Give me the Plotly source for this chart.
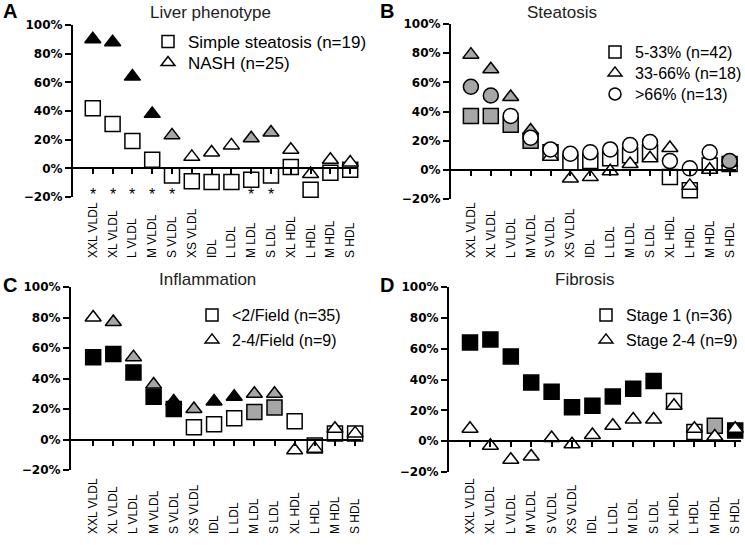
import plotly.graph_objects as go

cats = ["XXL VLDL", "XL VLDL", "L VLDL", "M VLDL", "S VLDL", "XS VLDL", "IDL",
        "L LDL", "M LDL", "S LDL", "XL HDL", "L HDL", "M HDL", "S HDL"]

# fill codes: k = black, g = gray, w = white
# A - liver phenotype
a_simple = [42, 31, 19, 6, -5, -9, -9.5, -9.5, -8, -5, 1, -15, -3, -1]
a_simple_fill = list("wwwwwwwwwwwwww")
a_nash = [90, 88, 64, 38, 23, 8, 11, 16, 21, 25, 13, -4, 6, 4]
a_nash_fill = list("kkkkgwwwggwwww")
a_marks = ["*", "*", "*", "*", "*", "", "", "", "*", "*", "", "", "", ""]

# B - steatosis
b_low = [37, 37, 31, 20, 12, 5, 6, 8, 10, 12, -5, -14, 3, 4]
b_low_fill = list("ggggwwwwwwwwww")
b_mid = [79, 69, 50, 27, 9, -6, -5, -1, 4, 8, 15, -11, 0, 5]
b_mid_fill = list("ggggwwwwwwwwww")
b_high = [57, 51, 37, 22, 14, 11, 12, 14, 17, 19, 6, 1, 12, 6]
b_high_fill = list("ggwwwwwwwwwwwg")

# C - inflammation
c_low = [54, 56, 44, 28, 20, 8, 10, 14, 18, 21, 12, -4, 4, 4]
c_low_fill = list("kkkkkwwwggwwww")
c_high = [80, 77, 54, 36, 25, 20, 25, 28, 30, 30, -7, -6, 7, 4]
c_high_fill = list("wgggkgkkggwwww")
c_marks = ["*", "*", "*", "*", "*", "", "*", "*", "*", "*", "", "", "", ""]

# D - fibrosis
d_st1 = [64, 66, 55, 38, 32, 22, 23, 29, 34, 39, 26, 6, 10, 7]
d_st1_fill = list("kkkkkkkkkkwwgk")
d_st24 = [8, -3, -12, -10, 2, -2, 4, 10, 14, 14, 23, 8, 3, 8]
d_st24_fill = list("wwwwwwwwwwwwww")
d_marks = ["#", "#", "#", "#", "#", "#", "#", "#", "#", "#", "", "*", "#", ""]

COL = {"k": "#000000", "g": "#a6a6a6", "w": "#ffffff"}
W, H = 745, 545

# pixel geometry of each panel
panels = {
    "A": dict(x0=73, step=19.8, r0=-1.0, r1=13.4, ytop=25, ybot=197, lab=258, marky=-18,
              title="Liver phenotype", tx=210, ty=12, lx=148, lf=17, ly=[42, 63]),
    "B": dict(x0=451, step=19.9, r0=-1.0, r1=13.3, ytop=24, ybot=199, lab=258, marky=-18,
              title="Steatosis", tx=562, ty=12, lx=595, lf=16, ly=[52, 73, 94]),
    "C": dict(x0=71, step=20.15, r0=-1.1, r1=13.3, ytop=287, ybot=470, lab=534, marky=-22.5,
              title="Inflammation", tx=207, ty=279, lx=192, lf=16, ly=[315, 340]),
    "D": dict(x0=449, step=20.4, r0=-1.03, r1=13.3, ytop=287, ybot=472, lab=534, marky=-21,
              title="Fibrosis", tx=585, ty=279, lx=586, lf=16, ly=[315, 340]),
}

series = {
    "A": [("Simple steatosis (n=19)", a_simple, a_simple_fill, "square"),
          ("NASH (n=25)", a_nash, a_nash_fill, "triangle-up")],
    "B": [("5-33% (n=42)", b_low, b_low_fill, "square"),
          ("33-66% (n=18)", b_mid, b_mid_fill, "triangle-up"),
          (">66% (n=13)", b_high, b_high_fill, "circle")],
    "C": [("<2/Field (n=35)", c_low, c_low_fill, "square"),
          ("2-4/Field (n=9)", c_high, c_high_fill, "triangle-up")],
    "D": [("Stage 1 (n=36)", d_st1, d_st1_fill, "square"),
          ("Stage 2-4 (n=9)", d_st24, d_st24_fill, "triangle-up")],
}
marks = {"A": a_marks, "C": c_marks, "D": d_marks}
sizes = {"square": 15, "triangle-up": 14, "circle": 15}

fig = go.Figure()
layout = {}
annotations = []
tickfont = dict(family="DejaVu Sans", size=12, color="black", weight="bold")
leg_count = 0

for i, (key, p) in enumerate(panels.items()):
    n = i + 1
    xa = "x" if n == 1 else f"x{n}"
    ya = "y" if n == 1 else f"y{n}"
    lab_x = f"x{n + 4}"
    x1 = p["x0"] + (p["r1"] - p["r0"]) * p["step"]
    xdom = [p["x0"] / W, x1 / W]
    ydom = [(H - p["ybot"]) / H, (H - p["ytop"]) / H]
    zero_pos = ydom[0] + (ydom[1] - ydom[0]) * 20 / 120

    for j, (name, vals, fill, sym) in enumerate(series[key]):
        fig.add_trace(go.Scatter(
            x=cats, y=vals, mode="markers", xaxis=xa, yaxis=ya, showlegend=False,
            cliponaxis=False,
            marker=dict(symbol=sym, size=sizes[sym], color=[COL[f] for f in fill],
                        line=dict(color="black", width=1.5))))
        # legend entry, one small legend per row
        leg_count += 1
        leg = "legend" if leg_count == 1 else f"legend{leg_count}"
        fig.add_trace(go.Scatter(
            x=[None], y=[None], mode="markers", xaxis=xa, yaxis=ya, name=name,
            legend=leg,
            marker=dict(symbol=sym, size=12, color="white",
                        line=dict(color="black", width=1.5))))
        layout[leg] = dict(
            x=p["lx"] / W, y=(H - p["ly"][j]) / H, xanchor="left", yanchor="middle",
            bgcolor="rgba(0,0,0,0)", itemwidth=30, borderwidth=0,
            font=dict(family="Liberation Sans", size=p["lf"], color="black"))

    # dummy trace so the tick label axis gets drawn
    fig.add_trace(go.Scatter(x=[None], y=[None], xaxis=lab_x, yaxis=ya,
                             showlegend=False, hoverinfo="skip"))

    layout[f"xaxis{'' if n == 1 else n}"] = dict(
        domain=xdom, anchor="free", position=zero_pos, type="category",
        categoryorder="array", categoryarray=cats, range=[p["r0"], p["r1"]],
        showline=True, linecolor="black", linewidth=2, ticks="outside", ticklen=5,
        tickwidth=1.5, tickcolor="black", showticklabels=False, showgrid=False,
        zeroline=False, fixedrange=True)
    layout[f"xaxis{n + 4}"] = dict(
        domain=xdom, anchor="free", position=(H - p["lab"]) / H, overlaying=xa,
        side="top", type="linear", range=[p["r0"], p["r1"]], tickmode="array",
        tickvals=list(range(len(cats))), ticktext=cats, tickangle=-90,
        showline=False, ticks="", showgrid=False, zeroline=False,
        tickfont=dict(family="Liberation Sans", size=12, color="black"))
    layout[f"yaxis{'' if n == 1 else n}"] = dict(
        domain=ydom, anchor=xa, range=[-20, 100], dtick=20, ticksuffix="%",
        showline=True, linecolor="black", linewidth=2, ticks="outside", ticklen=6,
        tickwidth=2, tickcolor="black", showgrid=False, zeroline=False,
        tickfont=tickfont)

    annotations.append(dict(
        text=p["title"], x=p["tx"] / W, y=(H - p["ty"]) / H, xref="paper", yref="paper",
        showarrow=False, xanchor="center", yanchor="middle",
        font=dict(family="Liberation Sans", size=17, color="#222222")))
    annotations.append(dict(
        text=f"<b>{key}</b>", x=(1 if n % 2 else 378) / W,
        y=(H - (11 if n < 3 else 285)) / H, xref="paper", yref="paper",
        showarrow=False, xanchor="left", yanchor="middle",
        font=dict(family="Liberation Sans", size=20, color="black")))
    for c, m in zip(cats, marks.get(key, [])):
        if m:
            annotations.append(dict(
                text=m, x=c, y=p["marky"], xref=xa, yref=ya, showarrow=False,
                font=dict(family="Liberation Sans", size=16, color="black")))

fig.update_layout(
    width=W, height=H, margin=dict(l=0, r=0, t=0, b=0, autoexpand=False),
    paper_bgcolor="white", plot_bgcolor="rgba(0,0,0,0)",
    annotations=annotations, **layout)

fig.write_html("out.html", config={"displayModeBar": False},
               post_script="document.body.style.margin = '0px';")
